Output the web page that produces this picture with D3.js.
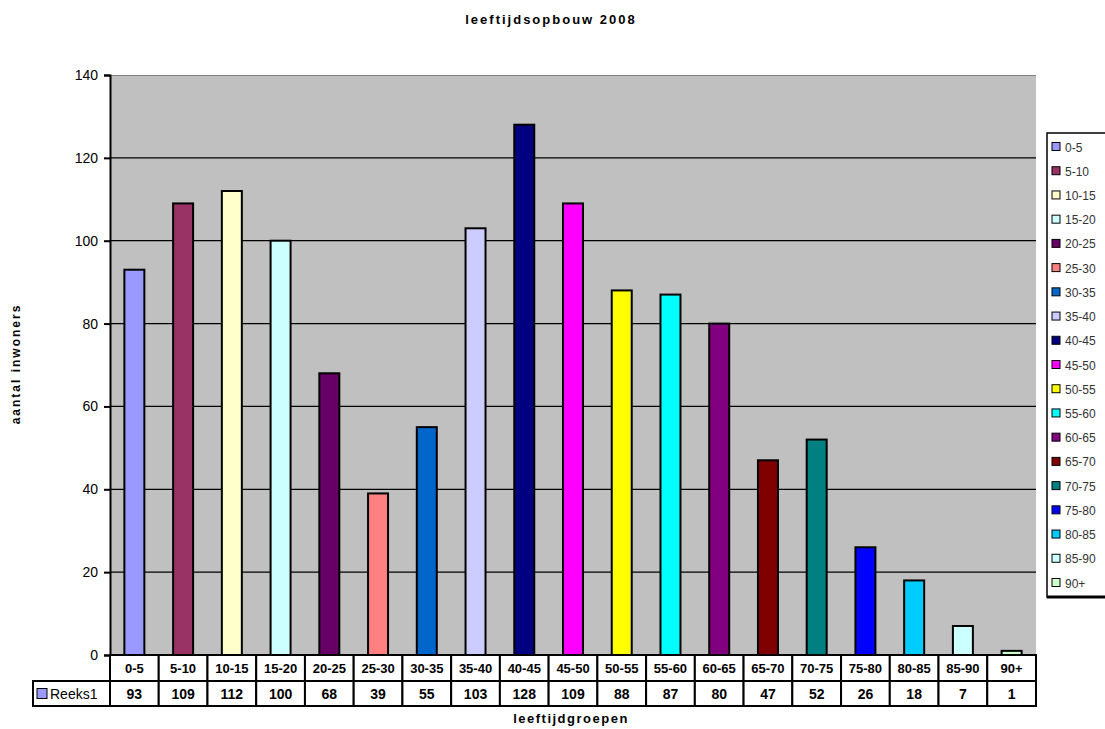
<!DOCTYPE html>
<html>
<head>
<meta charset="utf-8">
<script src="https://cdn.jsdelivr.net/npm/d3@7/dist/d3.min.js"></script>
<style>
  html, body { margin: 0; padding: 0; background: #fff; }
  svg { display: block; font-family: "Liberation Sans", Arial, sans-serif; }
</style>
</head>
<body>
<svg id="chart" width="1105" height="729"></svg>
<script>
// ---- data ----
const categories = ["0-5","5-10","10-15","15-20","20-25","25-30","30-35","35-40","40-45","45-50","50-55","55-60","60-65","65-70","70-75","75-80","80-85","85-90","90+"];
const values = [93,109,112,100,68,39,55,103,128,109,88,87,80,47,52,26,18,7,1];
const colors = ["#9999FF","#993366","#FFFFCC","#CCFFFF","#660066","#FF8080","#0066CC","#CCCCFF","#000080","#FF00FF","#FFFF00","#00FFFF","#800080","#800000","#008080","#0000FF","#00CCFF","#CCFFFF","#CCFFCC"];
const yTicks = [0,20,40,60,80,100,120,140];
const seriesName = "Reeks1";
const title = "leeftijdsopbouw 2008";
const yTitle = "aantal inwoners";
const xTitle = "leeftijdgroepen";

// ---- layout ----
const svg = d3.select("#chart");
const plot = {left: 110, right: 1036, top: 75, bottom: 655};

const x = d3.scaleBand().domain(categories).range([plot.left, plot.right]).paddingInner(0.59).paddingOuter(0.295);
const band = d3.scaleBand().domain(categories).range([plot.left, plot.right]);
const y = d3.scaleLinear().domain([0, 140]).range([plot.bottom, plot.top]);

// plot background
svg.append("rect").attr("x", plot.left).attr("y", plot.top)
  .attr("width", plot.right - plot.left).attr("height", plot.bottom - plot.top)
  .attr("fill", "#C0C0C0");
svg.append("line").attr("x1", plot.left).attr("x2", plot.right)
  .attr("y1", plot.top + 0.5).attr("y2", plot.top + 0.5)
  .attr("stroke", "#808080").attr("stroke-width", 1);

// gridlines
svg.append("g").selectAll("line").data(yTicks.filter(t => t > 0 && t < 140)).join("line")
  .attr("x1", plot.left).attr("x2", plot.right)
  .attr("y1", d => y(d)).attr("y2", d => y(d))
  .attr("stroke", "#000").attr("stroke-width", 1.2);

// bars
svg.append("g").selectAll("rect").data(values).join("rect")
  .attr("x", (d, i) => x(categories[i]))
  .attr("y", d => y(d))
  .attr("width", x.bandwidth())
  .attr("height", d => plot.bottom - y(d))
  .attr("fill", (d, i) => colors[i])
  .attr("stroke", "#000").attr("stroke-width", 2);

// y axis
const yAxis = d3.axisLeft(y).tickValues(yTicks).tickSize(6).tickPadding(6);
const ga = svg.append("g").attr("transform", `translate(${plot.left},0)`).call(yAxis);
ga.select(".domain").attr("stroke", "#000").attr("stroke-width", 2);
ga.selectAll(".tick line").attr("stroke", "#000").attr("stroke-width", 2);
ga.selectAll(".tick text").attr("font-size", 14).attr("font-family", "'Liberation Sans', Arial, sans-serif").attr("fill", "#000");

// data table
const tbl = svg.append("g");
const row1 = {top: plot.bottom, bottom: 681};
const row2 = {top: 681, bottom: 706};
const tableLeft = 33;
tbl.selectAll("rect.c1").data(categories).join("rect").attr("class", "c1")
  .attr("x", d => band(d)).attr("y", row1.top)
  .attr("width", band.bandwidth()).attr("height", row1.bottom - row1.top)
  .attr("fill", "#fff").attr("stroke", "#000").attr("stroke-width", 2);
tbl.selectAll("rect.c2").data(categories).join("rect").attr("class", "c2")
  .attr("x", d => band(d)).attr("y", row2.top)
  .attr("width", band.bandwidth()).attr("height", row2.bottom - row2.top)
  .attr("fill", "#fff").attr("stroke", "#000").attr("stroke-width", 2);
tbl.append("rect").attr("x", tableLeft).attr("y", row2.top)
  .attr("width", plot.left - tableLeft).attr("height", row2.bottom - row2.top)
  .attr("fill", "#fff").attr("stroke", "#000").attr("stroke-width", 2);
tbl.selectAll("text.t1").data(categories).join("text").attr("class", "t1")
  .attr("x", d => band(d) + band.bandwidth() / 2).attr("y", (row1.top + row1.bottom) / 2 + 5)
  .attr("text-anchor", "middle").attr("font-size", 13).attr("font-weight", "bold").text(d => d);
tbl.selectAll("text.t2").data(values).join("text").attr("class", "t2")
  .attr("x", (d, i) => band(categories[i]) + band.bandwidth() / 2).attr("y", (row2.top + row2.bottom) / 2 + 5)
  .attr("text-anchor", "middle").attr("font-size", 14).attr("font-weight", "bold").text(d => d);
tbl.append("rect").attr("x", tableLeft + 4).attr("y", (row2.top + row2.bottom) / 2 - 5)
  .attr("width", 10).attr("height", 10).attr("fill", colors[0]).attr("stroke", "#000").attr("stroke-width", 1);
tbl.append("text").attr("x", tableLeft + 17).attr("y", (row2.top + row2.bottom) / 2 + 5)
  .attr("font-size", 14).text(seriesName);

// titles
svg.append("text").attr("x", 551).attr("y", 24).attr("text-anchor", "middle")
  .attr("font-size", 13).attr("font-weight", "bold").attr("letter-spacing", 2).text(title);
svg.append("text").attr("transform", "translate(20,364) rotate(-90)").attr("text-anchor", "middle")
  .attr("font-size", 12).attr("font-weight", "bold").attr("letter-spacing", 2).text(yTitle);
svg.append("text").attr("x", 571).attr("y", 723).attr("text-anchor", "middle")
  .attr("font-size", 13).attr("font-weight", "bold").attr("letter-spacing", 1.5).text(xTitle);

// legend
const lg = svg.append("g");
const lgTop = 133, lgBottom = 597, lgLeft = 1047;
lg.append("rect").attr("x", lgLeft).attr("y", lgTop).attr("width", 80).attr("height", lgBottom - lgTop)
  .attr("fill", "#fff").attr("stroke", "#000").attr("stroke-width", 1.5);
lg.append("line").attr("x1", lgLeft).attr("x2", 1105).attr("y1", lgBottom).attr("y2", lgBottom)
  .attr("stroke", "#000").attr("stroke-width", 3);
const ly = d3.scalePoint().domain(categories).range([147, 583]);
lg.selectAll("rect.k").data(categories).join("rect").attr("class", "k")
  .attr("x", 1052).attr("y", d => ly(d) - 4.5).attr("width", 8).attr("height", 8)
  .attr("fill", (d, i) => colors[i]).attr("stroke", "#000").attr("stroke-width", 1);
lg.selectAll("text.k").data(categories).join("text").attr("class", "k")
  .attr("x", 1065).attr("y", d => ly(d) + 4.5).attr("font-size", 12).attr("fill", "#333")
  .text(d => d);
</script>
</body>
</html>
